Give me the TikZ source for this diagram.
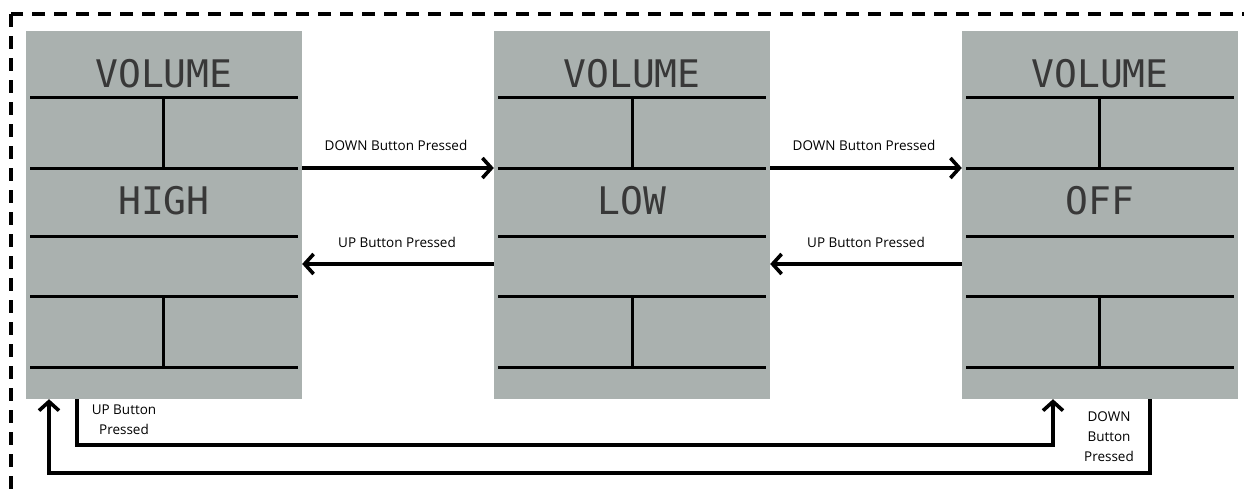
\documentclass[tikz,border=0pt]{standalone}
\usepackage{fontspec}
\setmainfont{Open Sans}
\newfontfamily\lcdfont{DejaVu Sans Mono}
\usetikzlibrary{arrows.meta}
\definecolor{lcdgray}{RGB}{170,177,175}

\tikzset{
  panel/.style={draw=none,fill=lcdgray,minimum width=276pt,minimum height=368pt,inner sep=0pt},
  seg/.style={black,line width=3pt},
  lcdtext/.style={font=\lcdfont\fontsize{38}{40}\selectfont,text=black!78},
  arr/.style={line width=3.6pt,-{Straight Barb[length=9pt,width=20pt,line width=3.6pt]}},
  lbl/.style={font=\fontsize{13.5}{20}\selectfont,align=center,inner sep=0pt}
}

\begin{document}
\begin{tikzpicture}[x=1pt,y=-1pt]
\useasboundingbox (0,0) rectangle (1244,488);

%outer dashed frame
\draw[line width=4pt,dash pattern=on 13pt off 9pt] (11,14) rectangle (1270,510);

%high panel
\node[panel] (high) at (164,215) {};
\draw[seg] (30,97) -- (298,97);
\draw[seg] (30,168) -- (298,168);
\draw[seg] (163,97) -- (163,168);
\draw[seg] (30,236) -- (298,236);
\draw[seg] (30,296) -- (298,296);
\draw[seg] (30,367) -- (298,367);
\draw[seg] (163,296) -- (163,367);
\node[lcdtext] (highvol) at (164,74) {VOLUME};
\node[lcdtext] (hightxt) at (164,201) {HIGH};

%low panel
\node[panel] (low) at (632,215) {};
\draw[seg] (498,97) -- (766,97);
\draw[seg] (498,168) -- (766,168);
\draw[seg] (632,97) -- (632,168);
\draw[seg] (498,236) -- (766,236);
\draw[seg] (498,296) -- (766,296);
\draw[seg] (498,367) -- (766,367);
\draw[seg] (632,296) -- (632,367);
\node[lcdtext] (lowvol) at (632,74) {VOLUME};
\node[lcdtext] (lowtxt) at (632,201) {LOW};

%off panel
\node[panel] (off) at (1100,215) {};
\draw[seg] (966,97) -- (1234,97);
\draw[seg] (966,168) -- (1234,168);
\draw[seg] (1099,97) -- (1099,168);
\draw[seg] (966,236) -- (1234,236);
\draw[seg] (966,296) -- (1234,296);
\draw[seg] (966,367) -- (1234,367);
\draw[seg] (1099,296) -- (1099,367);
\node[lcdtext] (offvol) at (1100,74) {VOLUME};
\node[lcdtext] (offtxt) at (1100,201) {OFF};

%transitions between panels
\draw[arr] (high.east |- 0,168) -- (low.west |- 0,168);
\draw[arr] (low.west |- 0,264) -- (high.east |- 0,264);
\draw[arr] (low.east |- 0,168) -- (off.west |- 0,168);
\draw[arr] (off.west |- 0,264) -- (low.east |- 0,264);

\node[lbl] (d1) at (396,145) {DOWN Button Pressed};
\node[lbl] (u1) at (397,242) {UP Button Pressed};
\node[lbl] (d2) at (864,145) {DOWN Button Pressed};
\node[lbl] (u2) at (866,242) {UP Button Pressed};

%wrap around loops
\coordinate (ua) at (77,445);
\coordinate (ub) at (1053,445);
\draw[arr] (high.south -| ua) -- (ua) -- (ub) -- (off.south -| ub);
\coordinate (da) at (1150,473);
\coordinate (db) at (49,473);
\draw[arr] (off.south -| da) -- (da) -- (db) -- (high.south -| db);

\node[lbl] (u3) at (124,420) {UP Button\\Pressed};
\node[lbl] (d3) at (1109,437) {DOWN\\Button\\Pressed};

\end{tikzpicture}
\end{document}
